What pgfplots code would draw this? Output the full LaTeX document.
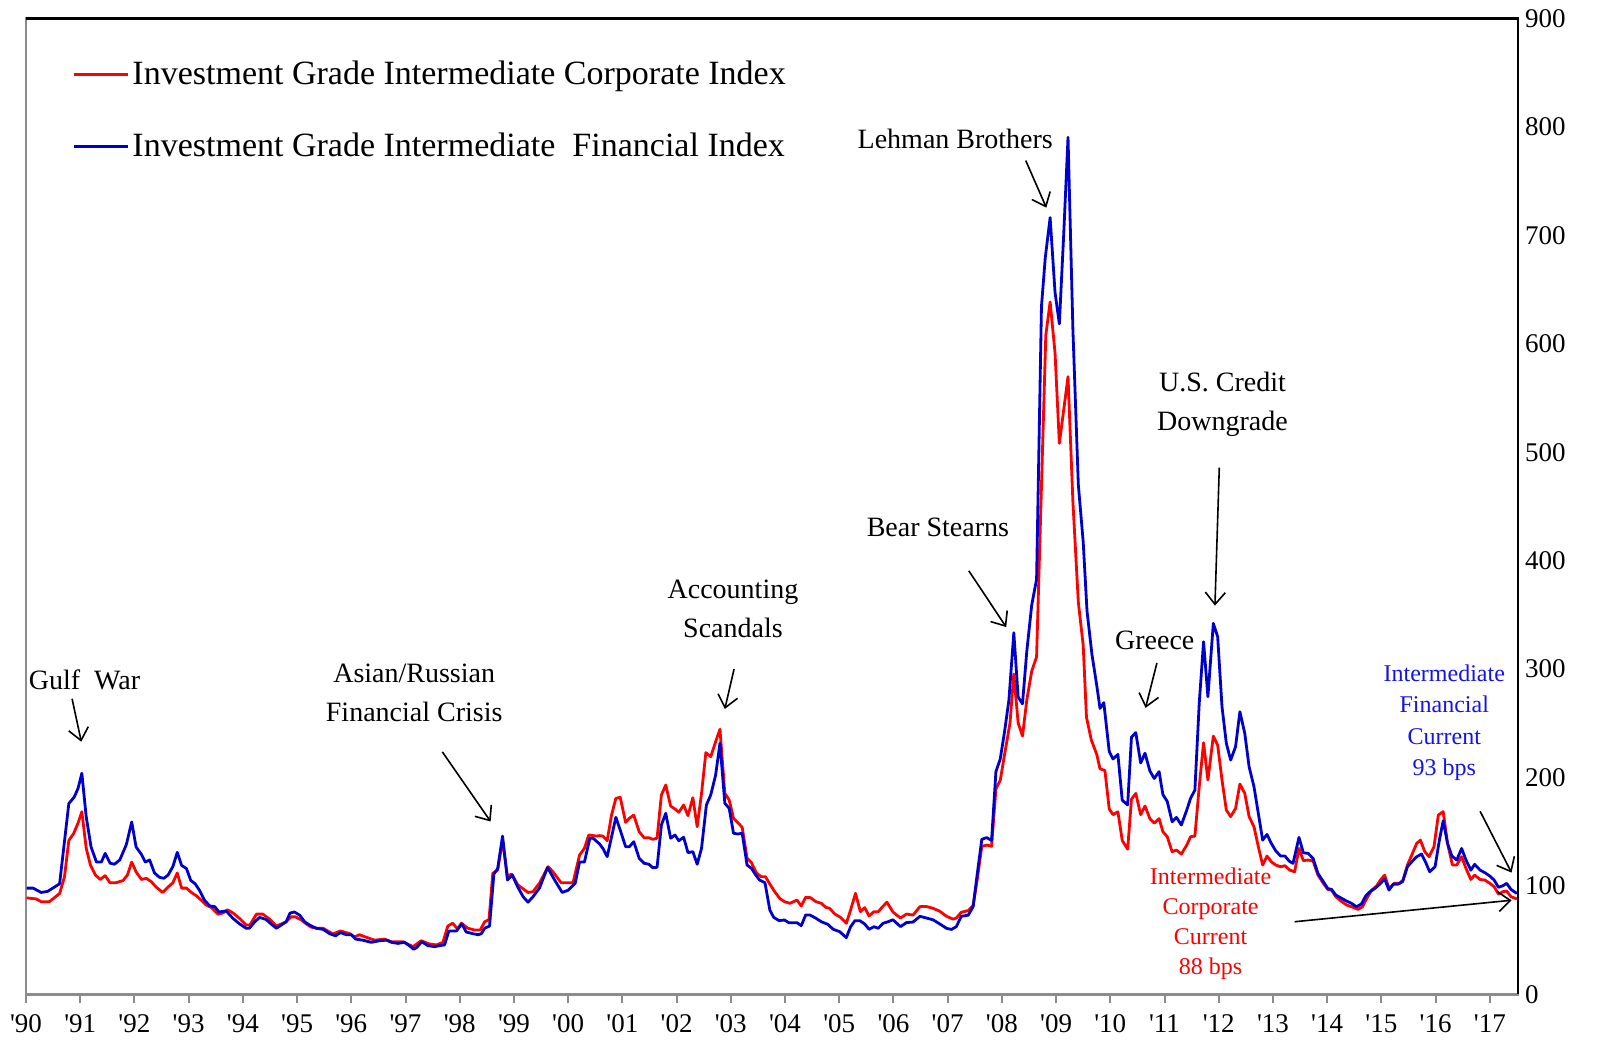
\documentclass[border=0pt]{standalone}
\usepackage{fontspec}
\setmainfont{Liberation Serif}
\usepackage{pgfplots}
\usepackage{pgfplotstable}
\pgfplotsset{compat=1.18}
\usetikzlibrary{arrows.meta}
\definecolor{finblue}{RGB}{0,0,204}
\definecolor{txtblue}{RGB}{20,20,230}
\definecolor{corpred}{RGB}{255,0,0}
\definecolor{axgray}{RGB}{140,140,140}
\newcommand\q{\textquotesingle}

\pgfplotstableread{
year val
1990.01 98
1990.13 98
1990.28 94
1990.40 95
1990.62 102
1990.79 176
1990.89 182
1990.96 190
1991.03 204
1991.11 164
1991.20 136
1991.30 122
1991.39 122
1991.46 130
1991.55 121
1991.63 120
1991.73 124
1991.85 138
1991.95 159
1992.03 136
1992.13 129
1992.20 122
1992.28 124
1992.37 112
1992.46 108
1992.54 107
1992.62 110
1992.71 118
1992.79 131
1992.87 119
1992.96 116
1993.04 105
1993.12 102
1993.20 96
1993.29 87
1993.39 81.5
1993.48 81
1993.56 76
1993.69 77
1993.82 70
1993.94 65
1994.06 61
1994.12 61
1994.22 67
1994.31 71
1994.43 69
1994.52 65
1994.62 61
1994.71 64
1994.80 67
1994.87 75
1994.95 76
1995.05 73
1995.14 67
1995.23 64
1995.35 61
1995.48 60
1995.60 56
1995.71 54
1995.80 57
1995.91 55
1996.00 55
1996.08 51
1996.21 50
1996.37 48
1996.52 49.5
1996.65 50
1996.74 48
1996.86 47
1996.98 48
1997.08 44.6
1997.15 41.6
1997.21 43.4
1997.30 48.6
1997.41 45
1997.54 44
1997.63 45
1997.72 45.6
1997.80 58.5
1997.94 58.5
1998.04 65
1998.12 57.5
1998.24 56
1998.34 55
1998.40 56
1998.46 61
1998.55 63
1998.63 111
1998.70 116
1998.79 146
1998.88 105.5
1998.97 110
1999.07 99
1999.17 90
1999.26 85
1999.35 90
1999.47 98
1999.62 117
1999.75 105.5
1999.89 94
2000.00 96
2000.13 102.5
2000.21 122
2000.30 122
2000.40 144
2000.46 144
2000.58 138.7
2000.64 134.7
2000.72 127
2000.88 163.3
2000.96 151.6
2001.06 136.2
2001.13 136.2
2001.21 140.8
2001.31 125.5
2001.40 120.9
2001.49 120
2001.56 116.8
2001.64 117.2
2001.72 156.2
2001.80 167
2001.89 144
2001.97 147
2002.04 141.7
2002.13 144.9
2002.21 130.7
2002.30 131.6
2002.38 120
2002.46 134.7
2002.55 174.7
2002.63 183.9
2002.72 202.3
2002.80 231.6
2002.89 176.2
2002.97 171.6
2003.05 148.6
2003.13 147.9
2003.21 148.6
2003.30 119.3
2003.38 116.3
2003.46 110.1
2003.53 105.5
2003.63 103
2003.72 77.8
2003.79 71.1
2003.89 68
2003.99 68.6
2004.07 66.1
2004.22 66.1
2004.30 63.4
2004.38 73.2
2004.46 73.2
2004.57 70.2
2004.67 67
2004.79 64.6
2004.89 60
2005.01 57.8
2005.13 52.3
2005.21 62.4
2005.29 68
2005.38 68
2005.47 64.9
2005.55 60
2005.64 62.4
2005.72 61
2005.81 65.6
2005.90 67
2005.99 68.8
2006.13 62.5
2006.24 66.2
2006.36 66.7
2006.49 72
2006.61 70.4
2006.73 68.8
2006.85 65.1
2006.98 60.9
2007.07 59.9
2007.16 62.5
2007.25 72
2007.38 73.1
2007.47 81
2007.55 112.8
2007.63 143
2007.72 144.6
2007.81 141.9
2007.89 205.4
2007.97 217.1
2008.05 242.5
2008.13 271.6
2008.22 333.5
2008.30 274.2
2008.38 267.9
2008.46 316.6
2008.55 358.9
2008.64 382.8
2008.73 634.2
2008.80 679.2
2008.89 716.3
2008.98 647.5
2009.06 618.3
2009.14 700.4
2009.22 790.4
2009.31 613
2009.41 470.1
2009.50 417.2
2009.57 353.7
2009.66 313.9
2009.75 284.8
2009.81 263.7
2009.88 269
2009.98 224
2010.05 217.1
2010.14 221.3
2010.22 179
2010.32 174.7
2010.39 237.2
2010.47 241.4
2010.56 213.4
2010.64 222.4
2010.73 206
2010.81 199.1
2010.90 205.4
2010.97 184.3
2011.05 177.9
2011.14 159.2
2011.22 163.2
2011.31 156.2
2011.41 170
2011.48 180.8
2011.56 188.4
2011.64 268.3
2011.72 325.2
2011.80 274.5
2011.90 342.1
2011.98 329.8
2012.06 265.3
2012.14 231.5
2012.22 216.1
2012.31 228.4
2012.39 260.7
2012.48 240.7
2012.56 209.9
2012.65 191.5
2012.73 166.9
2012.81 142.3
2012.89 147.5
2012.97 139.2
2013.05 132.5
2013.14 127.6
2013.22 127.6
2013.30 122.9
2013.37 120.8
2013.48 144.8
2013.56 130.6
2013.65 130
2013.74 125.4
2013.83 111.6
2013.93 103.9
2014.01 97.7
2014.08 96.8
2014.16 91.6
2014.27 88.5
2014.36 86
2014.45 83.9
2014.54 80.8
2014.63 83.3
2014.71 90.7
2014.79 94.7
2014.88 97.7
2014.97 101.7
2015.06 106.4
2015.14 96.2
2015.22 101.7
2015.31 101.7
2015.39 103.9
2015.48 117.7
2015.56 122.3
2015.65 126.9
2015.74 129.4
2015.82 121.4
2015.89 113.1
2015.99 117.7
2016.07 142.3
2016.14 160.2
2016.22 139.2
2016.30 127.6
2016.39 123.9
2016.48 134.6
2016.56 123.9
2016.65 114.6
2016.72 119.9
2016.82 114.6
2016.91 112.2
2017.00 109.1
2017.08 105.4
2017.16 98.7
2017.24 100.2
2017.31 102.4
2017.39 96.8
2017.50 93
}\fin

\pgfplotstableread{
year val
1990.01 89
1990.19 88
1990.28 85.5
1990.43 85.5
1990.62 93
1990.71 108.5
1990.79 142
1990.88 148.5
1990.96 158
1991.03 168.5
1991.11 135
1991.19 119
1991.28 110
1991.37 106
1991.46 109.5
1991.55 103
1991.66 103
1991.79 105
1991.87 110
1991.95 122
1992.03 113
1992.13 106
1992.22 107
1992.31 104
1992.40 99
1992.52 94
1992.62 99
1992.71 103
1992.79 112
1992.87 98
1992.96 98
1993.05 94
1993.14 91
1993.23 87
1993.32 82.5
1993.42 80
1993.54 74
1993.63 75
1993.72 78
1993.82 75
1993.94 70
1994.06 64
1994.13 64
1994.25 74
1994.37 74
1994.49 69.5
1994.62 63
1994.71 65
1994.80 67
1994.89 71.5
1994.97 71.5
1995.08 68.6
1995.17 65
1995.26 62
1995.38 61
1995.48 61
1995.66 55.7
1995.80 58.5
1995.97 56
1996.06 53
1996.15 55
1996.28 52.6
1996.43 50
1996.61 51
1996.74 48.6
1996.95 48.6
1997.14 44
1997.29 49.5
1997.44 46.5
1997.57 45.6
1997.69 48
1997.78 63
1997.87 65.6
1997.96 60.3
1998.03 65.6
1998.15 61
1998.27 59.4
1998.38 59.4
1998.46 67
1998.54 69
1998.61 111.7
1998.70 114.7
1998.79 142
1998.88 109
1998.96 111
1999.07 101
1999.26 94
1999.35 94.7
1999.47 102.5
1999.63 117.8
1999.72 113
1999.87 103
2000.09 103
2000.21 128.5
2000.30 134.7
2000.38 147
2000.52 146
2000.58 146.4
2000.64 146
2000.72 141.7
2000.80 165.4
2000.88 180.8
2000.96 181.7
2001.06 158.7
2001.13 162.4
2001.21 165.4
2001.31 150
2001.40 144.5
2001.49 144.5
2001.56 143
2001.64 144
2001.72 183.9
2001.80 193.1
2001.89 173.7
2001.97 171
2002.04 167.9
2002.13 174.7
2002.21 164.8
2002.30 181.4
2002.38 154.6
2002.46 185.4
2002.54 222.9
2002.63 219.2
2002.72 233
2002.80 244.5
2002.89 185.4
2002.97 179.3
2003.05 162.4
2003.13 158.3
2003.21 154.1
2003.30 125.5
2003.38 121.5
2003.47 112.2
2003.56 108.5
2003.64 108.5
2003.73 100.9
2003.81 94.7
2003.90 88.6
2003.99 85.5
2004.09 84
2004.22 87
2004.30 81.5
2004.38 89.5
2004.47 89.2
2004.57 85.5
2004.67 84
2004.75 80.3
2004.82 79.4
2004.92 74.1
2005.02 71.1
2005.13 65.6
2005.21 77.8
2005.30 93.2
2005.39 76.3
2005.47 80
2005.55 72.3
2005.64 76.3
2005.72 76.3
2005.80 80.9
2005.88 85
2005.99 76
2006.13 70.4
2006.24 74.1
2006.36 73.1
2006.49 81
2006.61 81
2006.73 79.4
2006.85 76.8
2006.98 72
2007.10 69.4
2007.16 70.4
2007.25 75.7
2007.38 77.3
2007.47 82.1
2007.55 107.5
2007.63 136.6
2007.73 137.7
2007.81 136.6
2007.89 189.5
2007.97 197.5
2008.05 221.3
2008.15 250.4
2008.22 295.4
2008.30 250.4
2008.38 238.2
2008.46 271.6
2008.55 298
2008.64 311.3
2008.81 607.8
2008.89 638.5
2008.98 591.9
2009.06 508.2
2009.14 538.9
2009.22 569.6
2009.31 454.2
2009.41 361.6
2009.50 321.9
2009.56 255.7
2009.65 234.5
2009.75 221.3
2009.81 208
2009.90 206.5
2009.98 171
2010.05 165.7
2010.14 168.4
2010.22 141.9
2010.32 133.9
2010.39 180
2010.47 185.3
2010.56 165.7
2010.64 173.7
2010.73 162
2010.81 158
2010.90 162
2010.97 150
2011.05 145.4
2011.14 131.6
2011.22 133.1
2011.31 129.4
2011.41 137.7
2011.48 145.4
2011.56 146
2011.64 191.5
2011.72 232.1
2011.80 197.7
2011.90 238.2
2011.98 229.9
2012.06 197.7
2012.14 170
2012.22 163.9
2012.31 171.5
2012.39 194
2012.48 185.4
2012.56 163.9
2012.65 154.6
2012.73 136.2
2012.81 119.3
2012.89 127.6
2012.97 122.3
2013.05 119.3
2013.14 117.7
2013.22 118.7
2013.31 114.6
2013.40 113.1
2013.48 134.6
2013.56 123.3
2013.65 123.9
2013.74 123
2013.83 110
2013.93 102.4
2014.01 96.8
2014.08 96.2
2014.16 90.1
2014.27 85.5
2014.36 82.4
2014.45 80.8
2014.57 78.4
2014.65 80.8
2014.73 88.5
2014.82 96.2
2014.91 99.9
2014.99 106
2015.06 110
2015.14 97.7
2015.24 102.4
2015.33 102.4
2015.40 105.4
2015.48 119.3
2015.56 128.5
2015.65 139.2
2015.72 142.3
2015.80 131.6
2015.88 127
2015.97 136.2
2016.05 165.4
2016.14 168.5
2016.22 139.2
2016.31 119.3
2016.39 119.3
2016.48 127
2016.56 116.2
2016.65 106
2016.72 110
2016.82 106
2016.91 105.4
2017.00 102.4
2017.08 99.3
2017.16 92.5
2017.24 94.7
2017.31 95.3
2017.39 90.1
2017.50 88
}\corp

\begin{document}
\begin{tikzpicture}
\begin{axis}[
  scale only axis, width=746pt, height=488pt,
  xmin=1990, xmax=2017.52, ymin=0, ymax=900,
  axis line style={axgray, line width=1.3pt},
  xtick={1990,1991,...,2017},
  xticklabels={\q90,\q91,\q92,\q93,\q94,\q95,\q96,\q97,\q98,\q99,\q00,\q01,\q02,\q03,\q04,\q05,\q06,\q07,\q08,\q09,\q10,\q11,\q12,\q13,\q14,\q15,\q16,\q17},
  xtick pos=bottom, tick align=outside,
  major tick length=4.5pt,
  x tick style={axgray, line width=1pt},
  xticklabel style={yshift=-2pt},
  ytick={0,100,...,900}, ytick pos=right,
  y tick style={draw=none},
  yticklabel style={xshift=-4.5pt},
  tick label style={font=\fontsize{13.5}{15}\selectfont},
  /pgf/number format/assume math mode=true,
  clip=false,
  legend cell align=left,
  legend image code/.code={\draw[#1] (0pt,0pt) -- (27pt,0pt);},
  legend style={draw=none, fill=none, at={(0.031,0.96)}, anchor=north west,
    font=\fontsize{17}{20}\selectfont, row sep=20pt, inner sep=0pt,
    nodes={inner sep=1.5pt}},
]
\addplot[corpred, line width=1.4pt, line join=round] table[x=year,y=val] {\corp};
\addlegendentry{Investment Grade Intermediate Corporate Index}
\addplot[finblue, line width=1.4pt, line join=round] table[x=year,y=val] {\fin};
\addlegendentry{Investment Grade Intermediate\ \ Financial Index}

\draw[black, line width=1.3pt] (rel axis cs:0,1) -- (rel axis cs:1,1) -- (rel axis cs:1,0);

\tikzset{ann/.style={font=\fontsize{14}{19.5}\selectfont, align=center, inner sep=0pt},
  arr/.style={-{Straight Barb[length=6pt,width=10pt]}, line width=0.8pt}}

\node[ann] at (axis cs:1991.08,289.6) {Gulf\ \ War};
\draw[arr] (axis cs:1990.85,272.6) -- (axis cs:1991.02,233);

\node[ann] at (axis cs:1997.16,278) {Asian/Russian\\Financial Crisis};
\draw[arr] (axis cs:1997.68,223.6) -- (axis cs:1998.57,159.4);

\node[ann] at (axis cs:2003.04,355.6) {Accounting\\Scandals};
\draw[arr] (axis cs:2003.06,300) -- (axis cs:2002.89,263.2);

\node[ann] at (axis cs:2007.14,788.7) {Lehman Brothers};
\draw[arr] (axis cs:2008.44,768.9) -- (axis cs:2008.82,725.5);

\node[ann] at (axis cs:2006.82,430.2) {Bear Stearns};
\draw[arr] (axis cs:2007.39,390.6) -- (axis cs:2008.08,338.7);

\node[ann] at (axis cs:2010.82,326.4) {Greece};
\draw[arr] (axis cs:2010.86,305.7) -- (axis cs:2010.65,264.2);

\node[ann] at (axis cs:2012.07,543.9) {U.S. Credit\\Downgrade};
\draw[arr] (axis cs:2012.01,485.8) -- (axis cs:2011.93,358.5);

\node[ann, text=txtblue, font=\fontsize{12}{15.8}\selectfont] at (axis cs:2016.16,250.5) {Intermediate\\Financial\\Current\\93 bps};
\draw[arr] (axis cs:2016.82,168.9) -- (axis cs:2017.40,112.3);

\node[ann, text=corpred, font=\fontsize{12}{15}\selectfont] at (axis cs:2011.85,65.1) {Intermediate\\Corporate\\Current\\88 bps};
\draw[arr] (axis cs:2013.40,67) -- (axis cs:2017.40,86.8);

\path (rel axis cs:0,0) ++(-13pt,-23.8pt);
\path (rel axis cs:1,1) ++(43pt,9.2pt);
\end{axis}
\end{tikzpicture}
\end{document}
